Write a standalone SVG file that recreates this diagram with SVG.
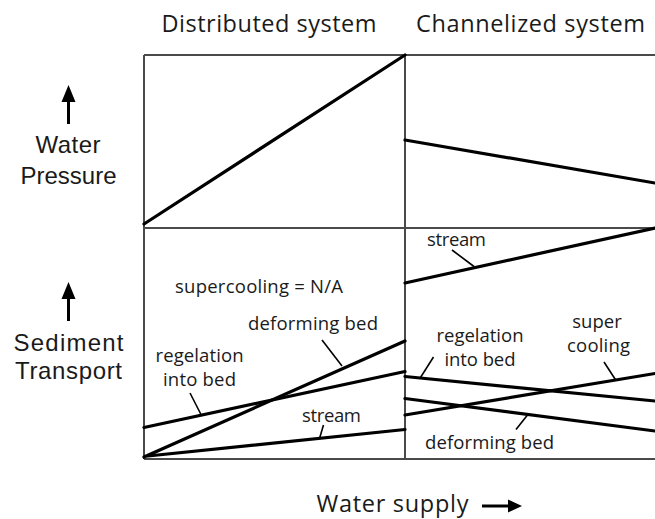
<svg xmlns="http://www.w3.org/2000/svg" width="655" height="519" viewBox="0 0 655 519">
<style>
text{font-family:"Open Sans","Liberation Sans",sans-serif;fill:#1a1a1a}
.big{font-size:23.5px}
.ax{font-family:"Liberation Sans","Open Sans",sans-serif;font-size:24px}
.sm{font-size:18.5px}
.frame{stroke:#4a4a4a;stroke-width:2;fill:none}
.data{stroke:#000;stroke-width:3.2;fill:none;stroke-linecap:round}
.lead{stroke:#000;stroke-width:1.6;fill:none}
.arr{stroke:#000;stroke-width:3;fill:none}
.head{fill:#000}
</style>
<rect width="655" height="519" fill="#fff"/>
<g id="titles">
<text class="big" x="161.5" y="32" textLength="215">Distributed system</text>
<text class="big" x="416" y="32" textLength="229">Channelized system</text>
</g>
<g id="frame">
<path class="frame" d="M144,55H655M144,228H655M144,459H655M144,55V459M405,55V459"/>
</g>
<g id="axis-pressure">
<path class="arr" d="M68.5,124V98"/>
<polygon class="head" points="68.5,85 61.5,102 75.5,102"/>
<text class="ax" x="68" y="152.5" text-anchor="middle" textLength="65">Water</text>
<text class="ax" x="68.5" y="183.5" text-anchor="middle" textLength="96">Pressure</text>
</g>
<g id="axis-sediment">
<path class="arr" d="M68.5,321V295"/>
<polygon class="head" points="68.5,282 61.5,299 75.5,299"/>
<text class="ax" x="68.5" y="350.5" text-anchor="middle" textLength="110">Sediment</text>
<text class="ax" x="68.5" y="378.5" text-anchor="middle" textLength="107">Transport</text>
</g>
<g id="axis-supply">
<text class="big" x="316.5" y="511.5" textLength="152">Water supply</text>
<path class="arr" d="M482,506H512"/>
<polygon class="head" points="522,506 508,499.5 508,512.5"/>
</g>
<g id="connectors">
<line class="data" x1="144" y1="224" x2="405" y2="55"/>
<line class="data" x1="405" y1="140" x2="655" y2="183"/>
<line class="data" x1="405" y1="283" x2="655" y2="228"/>
<line class="data" x1="144" y1="457" x2="405" y2="341"/>
<line class="data" x1="144" y1="427.5" x2="405" y2="371.5"/>
<line class="data" x1="148" y1="456" x2="405" y2="429.5"/>
<line class="data" x1="405" y1="376.5" x2="655" y2="401"/>
<line class="data" x1="405" y1="398.5" x2="655" y2="431"/>
<line class="data" x1="405" y1="415" x2="655" y2="373.5"/>
<line class="lead" x1="452" y1="250" x2="474" y2="266.5"/>
<line class="lead" x1="322" y1="340" x2="342" y2="366"/>
<line class="lead" x1="190" y1="393" x2="201" y2="414.5"/>
<line class="lead" x1="323.5" y1="425" x2="319.5" y2="438.5"/>
<line class="lead" x1="433.5" y1="357" x2="420.5" y2="377.5"/>
<line class="lead" x1="604" y1="362" x2="616" y2="380.5"/>
<line class="lead" x1="516" y1="429.5" x2="527.5" y2="415"/>
</g>
<g id="labels-distributed">
<text class="sm" x="175" y="292.5" textLength="168">supercooling = N/A</text>
<text class="sm" x="248" y="330" textLength="130">deforming bed</text>
<text class="sm" x="199.5" y="361.5" text-anchor="middle" textLength="88">regelation</text>
<text class="sm" x="199.5" y="385.5" text-anchor="middle" textLength="73">into bed</text>
<text class="sm" x="302" y="421.5" textLength="59">stream</text>
</g>
<g id="labels-channelized">
<text class="sm" x="427" y="245.5" textLength="59">stream</text>
<text class="sm" x="480" y="341.5" text-anchor="middle" textLength="87">regelation</text>
<text class="sm" x="480" y="366" text-anchor="middle" textLength="71">into bed</text>
<text class="sm" x="597" y="328" text-anchor="middle">super</text>
<text class="sm" x="598.5" y="351.5" text-anchor="middle" textLength="63">cooling</text>
<text class="sm" x="425" y="448.5" textLength="129">deforming bed</text>
</g>
</svg>
